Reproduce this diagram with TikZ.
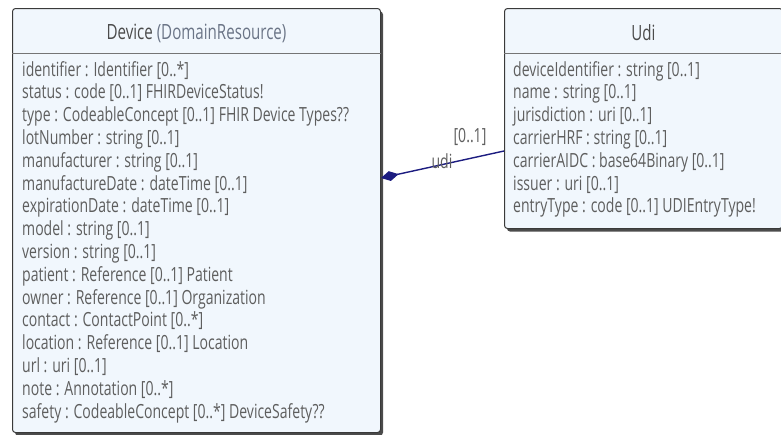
\documentclass[tikz,border=0pt]{standalone}
\usepackage{fontspec}
\newfontfamily\umlfont[FakeStretch=0.72]{Open Sans}
\usetikzlibrary{calc,shadows,arrows.meta}
\definecolor{classfill}{HTML}{F1F7FD}
\definecolor{classline}{HTML}{3A3A3A}
\definecolor{attrgrey}{HTML}{5E5E5E}
\definecolor{basegrey}{HTML}{6A7486}
\definecolor{linknavy}{HTML}{1C1C80}
\begin{document}
\begin{tikzpicture}[x=1pt, y=-1pt,
		classbox/.style={draw=classline, fill=classfill, rounded corners=3pt, line width=1pt,
			drop shadow={shadow xshift=2.5pt, shadow yshift=-3pt, opacity=0.7, fill=black},
			inner sep=0pt, anchor=north west},
		classname/.style={font=\umlfont\fontsize{21}{25}\selectfont, text=attrgrey!80!black},
		attrlist/.style={font=\umlfont\fontsize{19.5}{22.8}\selectfont, text=attrgrey,
			align=left, inner sep=0pt, anchor=north west},
		divider/.style={draw=classline!70, line width=0.8pt},
		assoc/.style={draw=linknavy, line width=1.4pt},
		rolelabel/.style={font=\umlfont\fontsize{19.5}{22}\selectfont, text=attrgrey, inner sep=0pt}]
	\useasboundingbox (0,0) rectangle (781,434);

	\node[classbox, minimum width=368pt, minimum height=424pt] (device) at (12,8) {};
	\draw[divider] ($(device.north west)+(0,45)$) -- ($(device.north east)+(0,45)$);
	\node[classname] (devicename) at ($(device.north)+(0,25)$)
		{Device \textcolor{basegrey}{(DomainResource)}};
	\node[attrlist] (deviceattrs) at ($(device.north west)+(10,53)$) {%
		identifier : Identifier [0..*]\\
		status : code [0..1] FHIRDeviceStatus!\\
		type : CodeableConcept [0..1] FHIR Device Types??\\
		lotNumber : string [0..1]\\
		manufacturer : string [0..1]\\
		manufactureDate : dateTime [0..1]\\
		expirationDate : dateTime [0..1]\\
		model : string [0..1]\\
		version : string [0..1]\\
		patient : Reference [0..1] Patient\\
		owner : Reference [0..1] Organization\\
		contact : ContactPoint [0..*]\\
		location : Reference [0..1] Location\\
		url : uri [0..1]\\
		note : Annotation [0..*]\\
		safety : CodeableConcept [0..*] DeviceSafety??};

	\node[classbox, minimum width=278pt, minimum height=220pt] (udi) at (504,8) {};
	\draw[divider] ($(udi.north west)+(0,45)$) -- ($(udi.north east)+(0,45)$);
	\node[classname] (udiname) at ($(udi.north)+(0,25)$) {Udi};
	\node[attrlist] (udiattrs) at ($(udi.north west)+(9,53)$) {%
		deviceIdentifier : string [0..1]\\
		name : string [0..1]\\
		jurisdiction : uri [0..1]\\
		carrierHRF : string [0..1]\\
		carrierAIDC : base64Binary [0..1]\\
		issuer : uri [0..1]\\
		entryType : code [0..1] UDIEntryType!};

	\coordinate (devend) at ($(device.north east)+(0,170)$);
	\coordinate (udiend) at ($(udi.north west)+(0,143)$);
	\draw[assoc, {Diamond[length=18pt,width=10pt]}-] (devend) -- (udiend);
	\node[rolelabel] (udimult) at ($(udiend)+(-34,-14)$) {[0..1]};
	\node[rolelabel] (udirole) at ($(udiend)+(-62,10)$) {udi};
\end{tikzpicture}
\end{document}
